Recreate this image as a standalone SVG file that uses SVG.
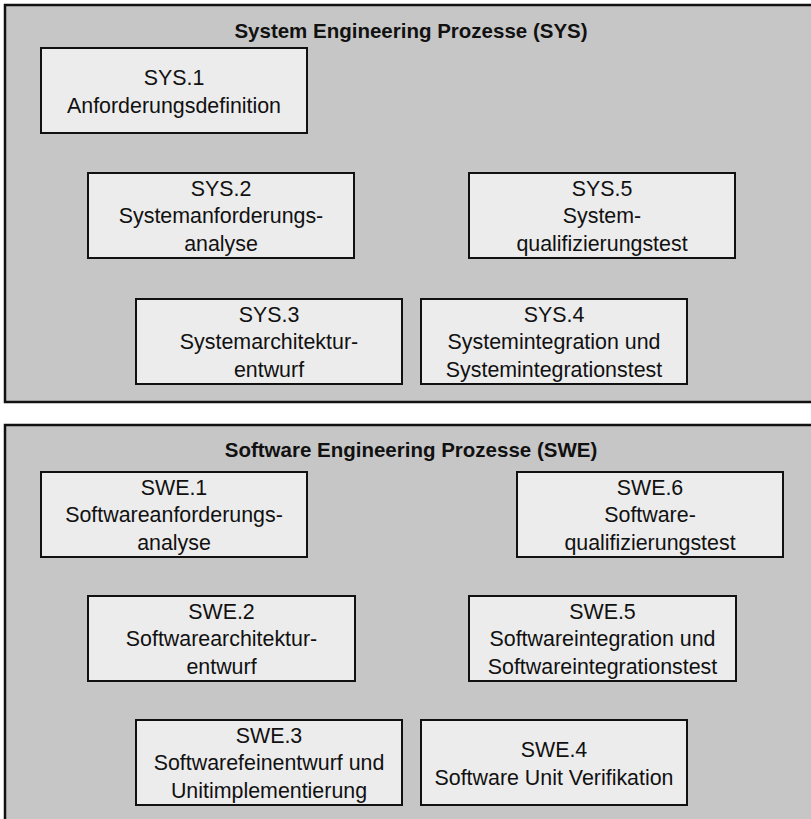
<svg xmlns="http://www.w3.org/2000/svg" width="811" height="819" viewBox="0 0 811 819">
  <style>
    .panel { fill: #c6c6c6; stroke: #111; stroke-width: 2.5; }
    .box { fill: #ececec; stroke: #111; stroke-width: 2; }
    .title { font-family: "Liberation Sans", Arial, sans-serif; font-weight: bold; font-size: 20.5px; fill: #111; text-anchor: middle; }
    .lbl { font-family: "Liberation Sans", Arial, sans-serif; font-size: 21.4px; fill: #111; text-anchor: middle; }
  </style>
  <rect width="811" height="819" fill="#ffffff"/>

  <!-- System engineering panel -->
  <g id="panel-sys">
    <rect class="panel" x="5" y="5" width="830" height="397"/>
    <text class="title" x="411" y="38">System Engineering Prozesse (SYS)</text>
  </g>
  <g id="sys1">
    <rect class="box" x="41" y="48" width="266" height="85"/>
    <text class="lbl" x="174" y="85">SYS.1</text>
    <text class="lbl" x="174" y="112.5">Anforderungsdefinition</text>
  </g>
  <g id="sys2">
    <rect class="box" x="88" y="173" width="266" height="85"/>
    <text class="lbl" x="221" y="195.5">SYS.2</text>
    <text class="lbl" x="221" y="223">Systemanforderungs-</text>
    <text class="lbl" x="221" y="250.5">analyse</text>
  </g>
  <g id="sys5">
    <rect class="box" x="469" y="173" width="266" height="85"/>
    <text class="lbl" x="602" y="195.5">SYS.5</text>
    <text class="lbl" x="602" y="223">System-</text>
    <text class="lbl" x="602" y="250.5">qualifizierungstest</text>
  </g>
  <g id="sys3">
    <rect class="box" x="136" y="299" width="266" height="85"/>
    <text class="lbl" x="269" y="321.5">SYS.3</text>
    <text class="lbl" x="269" y="349">Systemarchitektur-</text>
    <text class="lbl" x="269" y="376.5">entwurf</text>
  </g>
  <g id="sys4">
    <rect class="box" x="421" y="299" width="266" height="85"/>
    <text class="lbl" x="554" y="321.5">SYS.4</text>
    <text class="lbl" x="554" y="349">Systemintegration und</text>
    <text class="lbl" x="554" y="376.5">Systemintegrationstest</text>
  </g>

  <!-- Software engineering panel -->
  <g id="panel-swe">
    <rect class="panel" x="5" y="425" width="830" height="410"/>
    <text class="title" x="411" y="457">Software Engineering Prozesse (SWE)</text>
  </g>
  <g id="swe1">
    <rect class="box" x="41" y="472" width="266" height="85"/>
    <text class="lbl" x="174" y="494.5">SWE.1</text>
    <text class="lbl" x="174" y="522">Softwareanforderungs-</text>
    <text class="lbl" x="174" y="549.5">analyse</text>
  </g>
  <g id="swe6">
    <rect class="box" x="517" y="472" width="266" height="85"/>
    <text class="lbl" x="650" y="494.5">SWE.6</text>
    <text class="lbl" x="650" y="522">Software-</text>
    <text class="lbl" x="650" y="549.5">qualifizierungstest</text>
  </g>
  <g id="swe2">
    <rect class="box" x="88" y="596" width="267" height="85"/>
    <text class="lbl" x="221.5" y="618.5">SWE.2</text>
    <text class="lbl" x="221.5" y="646">Softwarearchitektur-</text>
    <text class="lbl" x="221.5" y="673.5">entwurf</text>
  </g>
  <g id="swe5">
    <rect class="box" x="469" y="596" width="267" height="85"/>
    <text class="lbl" x="602.5" y="618.5">SWE.5</text>
    <text class="lbl" x="602.5" y="646">Softwareintegration und</text>
    <text class="lbl" x="602.5" y="673.5">Softwareintegrationstest</text>
  </g>
  <g id="swe3">
    <rect class="box" x="136" y="720" width="266" height="85"/>
    <text class="lbl" x="269" y="742.5">SWE.3</text>
    <text class="lbl" x="269" y="770">Softwarefeinentwurf und</text>
    <text class="lbl" x="269" y="797.5">Unitimplementierung</text>
  </g>
  <g id="swe4">
    <rect class="box" x="421" y="720" width="266" height="85"/>
    <text class="lbl" x="554" y="757">SWE.4</text>
    <text class="lbl" x="554" y="785">Software Unit Verifikation</text>
  </g>

  <!-- no connectors between the process boxes -->
  <g id="connectors"/>
</svg>
